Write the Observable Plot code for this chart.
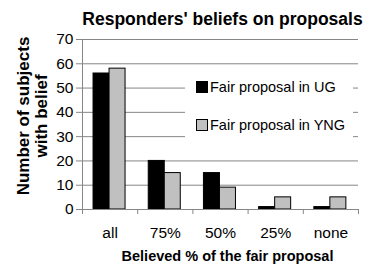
<!DOCTYPE html>
<html>
<head>
<meta charset="utf-8">
<script src="https://cdn.jsdelivr.net/npm/d3@7"></script>
<script src="https://cdn.jsdelivr.net/npm/@observablehq/plot@0.6"></script>
<style>
  html, body { margin: 0; padding: 0; background: #fff; }
  body { width: 369px; height: 269px; position: relative; overflow: hidden; font-family: "Liberation Sans", Arial, sans-serif; }
  #title { height: 30px; line-height: 30px; text-align: center; font-weight: bold; font-size: 17.5px; padding-left: 76px; box-sizing: border-box; padding-top: 4px; white-space: nowrap; }
  #legend { position: absolute; left: 185px; top: 68px; width: 168px; height: 73px; background: #fff; font-size: 14.5px; color: #000; }
  #legend .item { position: absolute; left: 11px; display: flex; align-items: center; white-space: nowrap; }
  #legend .sw { width: 10px; height: 10px; border: 1px solid #000; margin-right: 2px; box-sizing: content-box; }
  #ytitle { position: absolute; left: -67px; top: 98px; width: 200px; height: 36px; line-height: 18px; text-align: center; font-weight: bold; font-size: 17px; white-space: nowrap; transform: rotate(-90deg); transform-origin: 50% 50%; }
</style>
</head>
<body>
<div id="title">Responders' beliefs on proposals</div>
<div id="chart"></div>
<div id="legend"></div>
<div id="ytitle"></div>
<script>
const categories = ["all", "75%", "50%", "25%", "none"];
const seriesNames = ["Fair proposal in UG", "Fair proposal in YNG"];
const ugValues = [56, 20, 15, 1, 1];
const yngValues = [58, 15, 9, 5, 5];
const yTicks = [0, 10, 20, 30, 40, 50, 60, 70];
const colors = ["#000000", "#c0c0c0"];
const yTitleLines = ["Number of subjects", "with belief"];

const rows = [];
categories.forEach((c, i) => {
  rows.push({cat: c, i, series: seriesNames[0], value: ugValues[i], k: 0});
  rows.push({cat: c, i, series: seriesNames[1], value: yngValues[i], k: 1});
});
const barLeft = 0.2, barW = 0.29;

const chart = Plot.plot({
  width: 369,
  height: 239,
  marginTop: 9,
  marginBottom: 60,
  marginLeft: 82,
  marginRight: 11,
  style: {fontFamily: "Liberation Sans, Arial, sans-serif", fontSize: "15.5px", color: "#000", background: "#fff"},
  x: {type: "linear", domain: [0, categories.length], axis: null},
  y: {domain: [0, 70], axis: null},
  color: {domain: seriesNames, range: colors},
  marks: [
    Plot.ruleY(yTicks.filter(d => d > 0), {stroke: "#868686", strokeWidth: 1, strokeOpacity: 1}),
    Plot.rectY(rows, {
      x1: d => d.i + barLeft + d.k * barW,
      x2: d => d.i + barLeft + (d.k + 1) * barW,
      y1: 0, y2: "value",
      fill: "series", stroke: "#000", strokeWidth: 1
    }),
    Plot.ruleY([0], {stroke: "#868686"}),
    Plot.ruleX([0], {stroke: "#868686"}),
    Plot.axisY({ticks: yTicks, tickSize: 6, tickPadding: 3, tickFormat: d => String(d), stroke: "#868686", label: null, fontSize: 15.5}),
    Plot.axisX({ticks: d3.range(categories.length + 1), tickSize: 5, tickFormat: () => "", stroke: "#868686", label: null}),
    Plot.axisX({ticks: categories.map((c, i) => i + 0.5), tickSize: 0, tickPadding: 17, tickFormat: d => categories[Math.round(d - 0.5)], label: null, fontSize: 15.5}),
    Plot.text(["Believed % of the fair proposal"], {frameAnchor: "bottom", dy: 51, fontWeight: "bold", fontSize: 14.5, dx: 7})
  ]
});
document.getElementById("chart").appendChild(chart);

document.getElementById("ytitle").innerHTML = yTitleLines.join("<br>");

const legend = document.getElementById("legend");
seriesNames.forEach((s, k) => {
  const item = document.createElement("div");
  item.className = "item";
  item.style.top = (k === 0 ? 11 : 49) + "px";
  const sw = document.createElement("span");
  sw.className = "sw";
  sw.style.background = colors[k];
  const t = document.createElement("span");
  t.textContent = s;
  item.appendChild(sw);
  item.appendChild(t);
  legend.appendChild(item);
});
</script>
</body>
</html>
